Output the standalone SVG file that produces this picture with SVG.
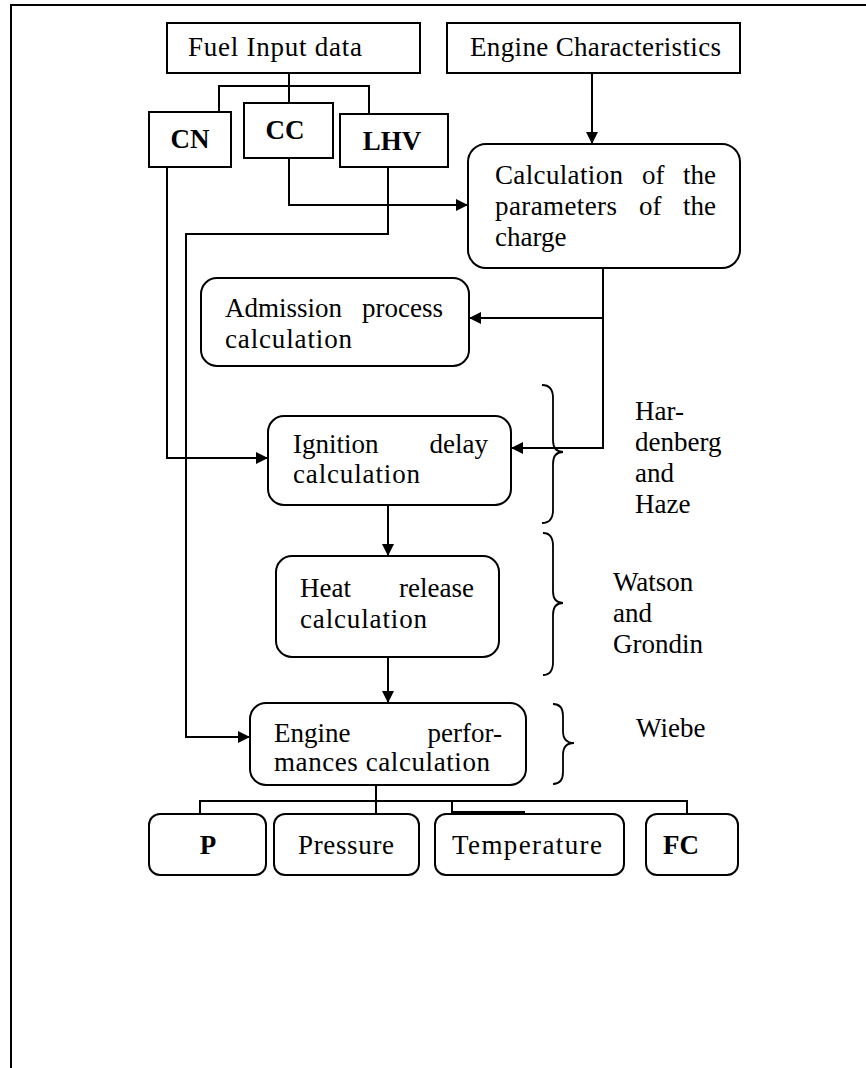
<svg xmlns="http://www.w3.org/2000/svg" width="866" height="1068" viewBox="0 0 866 1068">
<defs>
<marker id="arr" viewBox="0 0 12 12" refX="12" refY="6" markerWidth="12" markerHeight="12" markerUnits="userSpaceOnUse" orient="auto">
<path d="M0,0 L12,6 L0,12 Z" fill="#000"/>
</marker>
</defs>
<style>
text{font-size:27px;fill:#000;font-family:"Liberation Serif","Times New Roman",serif}
.b{font-weight:bold}
.box{fill:#fff;stroke:#000;stroke-width:2}
.ln{fill:none;stroke:#000;stroke-width:2}
.arr{fill:none;stroke:#000;stroke-width:2;marker-end:url(#arr)}
.brace{fill:none;stroke:#000;stroke-width:1.8}
</style>
<rect width="866" height="1068" fill="#fff"/>
<g id="frame">
<path class="ln" d="M11,1068 V5 H866"/>
</g>
<g id="connectors">
<path class="ln" d="M289,73 V103"/>
<path class="ln" d="M219,112 V86 H369 V114"/>
<path class="arr" d="M592,73 V144"/>
<path class="arr" d="M289,158 V205 H468"/>
<path class="arr" d="M388,167 V234 H186 V737 H250"/>
<path class="arr" d="M167,167 V458 H268"/>
<path class="arr" d="M603,268 V448 H511"/>
<path class="arr" d="M603,318 H469"/>
<path class="arr" d="M388,505 V556"/>
<path class="arr" d="M388,657 V703"/>
<path class="ln" d="M376,785 V814"/>
<path class="ln" d="M200,814 V801 H687 V814"/>
<path class="ln" d="M452,801 V813"/>
<path fill="none" stroke="#000" stroke-width="3" d="M452,812.5 H525"/>
</g>
<g id="fuel-input">
<rect class="box" x="167" y="23" width="253" height="50"/>
<text x="188" y="56" textLength="174">Fuel Input data</text>
</g>
<g id="engine-characteristics">
<rect class="box" x="447" y="23" width="293" height="50"/>
<text x="470" y="56" textLength="251">Engine Characteristics</text>
</g>
<g id="cn">
<rect class="box" x="149" y="112" width="82" height="55"/>
<text class="b" x="190" y="148" text-anchor="middle">CN</text>
</g>
<g id="cc">
<rect class="box" x="244" y="103" width="89" height="55"/>
<text class="b" x="285" y="139" text-anchor="middle">CC</text>
</g>
<g id="lhv">
<rect class="box" x="340" y="114" width="108" height="53"/>
<text class="b" x="392" y="150" text-anchor="middle">LHV</text>
</g>
<g id="charge-calc">
<rect class="box" x="468" y="144" width="272" height="124" rx="18"/>
<text x="495" y="184" textLength="128">Calculation</text>
<text x="642" y="184">of</text>
<text x="716" y="184" text-anchor="end">the</text>
<text x="495" y="215" textLength="122">parameters</text>
<text x="639" y="215">of</text>
<text x="716" y="215" text-anchor="end">the</text>
<text x="495" y="246">charge</text>
</g>
<g id="admission">
<rect class="box" x="201" y="278" width="268" height="88" rx="16"/>
<text x="225" y="317">Admission</text>
<text x="443" y="317" text-anchor="end">process</text>
<text x="225" y="348" textLength="127">calculation</text>
</g>
<g id="ignition">
<rect class="box" x="268" y="416" width="243" height="89" rx="16"/>
<text x="293" y="453">Ignition</text>
<text x="488" y="453" text-anchor="end">delay</text>
<text x="293" y="483" textLength="127">calculation</text>
</g>
<g id="heat-release">
<rect class="box" x="276" y="556" width="223" height="101" rx="16"/>
<text x="300" y="597">Heat</text>
<text x="474" y="597" text-anchor="end">release</text>
<text x="300" y="628" textLength="127">calculation</text>
</g>
<g id="engine-perf">
<rect class="box" x="250" y="703" width="276" height="82" rx="16"/>
<text x="274" y="742">Engine</text>
<text x="502" y="742" text-anchor="end">perfor-</text>
<text x="274" y="771" textLength="216">mances calculation</text>
</g>
<g id="p">
<rect class="box" x="149" y="814" width="117" height="61" rx="11"/>
<text class="b" x="208" y="854" text-anchor="middle">P</text>
</g>
<g id="pressure">
<rect class="box" x="274" y="814" width="145" height="61" rx="11"/>
<text x="298" y="854" textLength="96">Pressure</text>
</g>
<g id="temperature">
<rect class="box" x="435" y="814" width="189" height="61" rx="11"/>
<text x="452" y="854" textLength="150">Temperature</text>
</g>
<g id="fc">
<rect class="box" x="646" y="814" width="92" height="61" rx="11"/>
<text class="b" x="681" y="854" text-anchor="middle">FC</text>
</g>
<g id="hardenberg">
<path class="brace" d="M542,385 Q553,385 553,398 V440 Q553,452 563,452 Q553,452 553,464 V510 Q553,523 542,523"/>
<text x="635" y="420">Har-</text>
<text x="635" y="451">denberg</text>
<text x="635" y="482">and</text>
<text x="635" y="513">Haze</text>
</g>
<g id="watson">
<path class="brace" d="M543,533 Q553,533 553,546 V591 Q553,603 563,603 Q553,603 553,615 V662 Q553,675 543,675"/>
<text x="613" y="591">Watson</text>
<text x="613" y="622">and</text>
<text x="613" y="653">Grondin</text>
</g>
<g id="wiebe">
<path class="brace" d="M553,704 Q563,704 563,716 V731 Q563,743 574,743 Q563,743 563,755 V772 Q563,784 553,784"/>
<text x="636" y="737">Wiebe</text>
</g>
</svg>
